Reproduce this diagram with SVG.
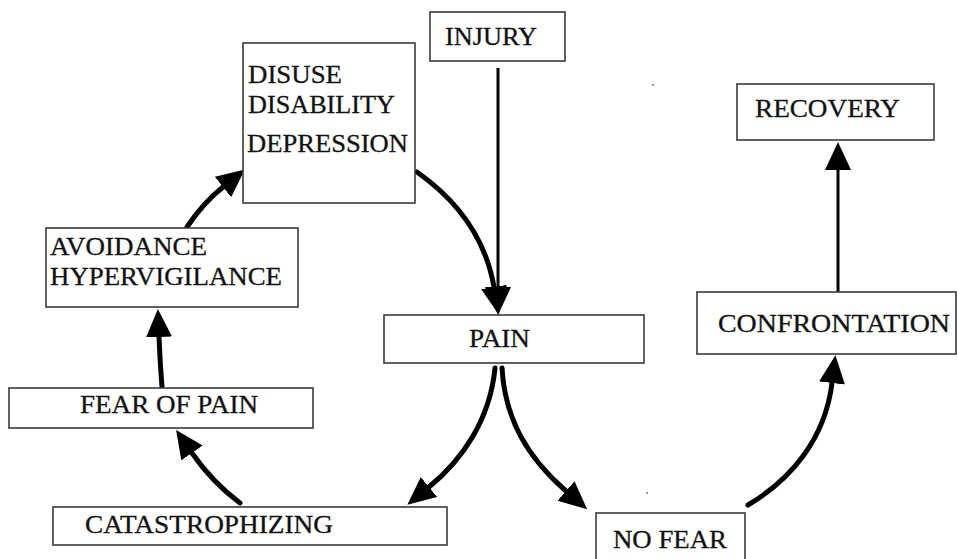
<svg xmlns="http://www.w3.org/2000/svg" width="957" height="559" viewBox="0 0 957 559">
<style>
.box{fill:#fff;stroke:#3a3a3a;stroke-width:1.6}
.t{font-family:"Liberation Serif","DejaVu Serif","Times New Roman",serif;font-size:26px;fill:#111;stroke:#111;stroke-width:0.3}
.c{fill:none;stroke:#000;stroke-width:5;stroke-linecap:round}
.s{fill:none;stroke:#000;stroke-width:3}
</style>
<defs>
<marker id="ah" markerUnits="userSpaceOnUse" markerWidth="32" markerHeight="32" refX="0" refY="13" orient="auto">
<path d="M0,0 L28,13 L0,26 z" fill="#000"/>
</marker>
</defs>
<rect width="957" height="559" fill="#fff"/>
<g id="connectors">
<line class="s" x1="498" y1="68" x2="498" y2="287" marker-end="url(#ah)"/>
<path class="c" d="M417,172 Q482,218 494,287" marker-end="url(#ah)"/>
<path class="c" d="M495,368 C490,420 462,460 429,487" marker-end="url(#ah)"/>
<path class="c" d="M502,368 C505,420 528,458 566,491" marker-end="url(#ah)"/>
<path class="c" d="M748,505 C790,480 825,440 832,383" marker-end="url(#ah)"/>
<line class="s" x1="838" y1="292" x2="838" y2="170" marker-end="url(#ah)"/>
<path class="c" d="M240,503 Q212,482 192,453" marker-end="url(#ah)"/>
<path class="c" d="M162,387 Q160,362 159,337" marker-end="url(#ah)"/>
<path class="c" d="M187,227 Q203,203 223,187" marker-end="url(#ah)"/>
</g>
<g id="injury"><rect class="box" x="430" y="12" width="135" height="49"/><text class="t" x="445" y="45" textLength="92" lengthAdjust="spacingAndGlyphs">INJURY</text></g>
<g id="disuse"><rect class="box" x="243" y="43" width="172" height="160"/>
<text class="t" x="248" y="83" textLength="94" lengthAdjust="spacingAndGlyphs">DISUSE</text>
<text class="t" x="248" y="113" textLength="147" lengthAdjust="spacingAndGlyphs">DISABILITY</text>
<text class="t" x="247" y="152" textLength="161" lengthAdjust="spacingAndGlyphs">DEPRESSION</text></g>
<g id="avoidance"><rect class="box" x="46" y="228" width="252" height="79"/>
<text class="t" x="50" y="255" textLength="157" lengthAdjust="spacingAndGlyphs">AVOIDANCE</text>
<text class="t" x="50" y="285" textLength="232" lengthAdjust="spacingAndGlyphs">HYPERVIGILANCE</text></g>
<g id="fear"><rect class="box" x="9" y="388" width="304" height="40"/><text class="t" x="80" y="413" textLength="178" lengthAdjust="spacingAndGlyphs">FEAR OF PAIN</text></g>
<g id="catastrophizing"><rect class="box" x="53" y="507" width="394" height="38"/><text class="t" x="85" y="533" textLength="248" lengthAdjust="spacingAndGlyphs">CATASTROPHIZING</text></g>
<g id="pain"><rect class="box" x="384" y="315" width="260" height="48"/><text class="t" x="469" y="347" textLength="61" lengthAdjust="spacingAndGlyphs">PAIN</text></g>
<g id="nofear"><rect class="box" x="596" y="513" width="149" height="60"/><text class="t" x="613" y="548" textLength="114" lengthAdjust="spacingAndGlyphs">NO FEAR</text></g>
<g id="recovery"><rect class="box" x="737" y="84" width="197" height="56"/><text class="t" x="755" y="117" textLength="145" lengthAdjust="spacingAndGlyphs">RECOVERY</text></g>
<g id="confrontation"><rect class="box" x="697" y="292" width="259" height="62"/><text class="t" x="718" y="332" textLength="232" lengthAdjust="spacingAndGlyphs">CONFRONTATION</text></g>
<circle cx="653" cy="85" r="1" fill="#777"/>
<circle cx="647" cy="493" r="1" fill="#777"/>
</svg>
